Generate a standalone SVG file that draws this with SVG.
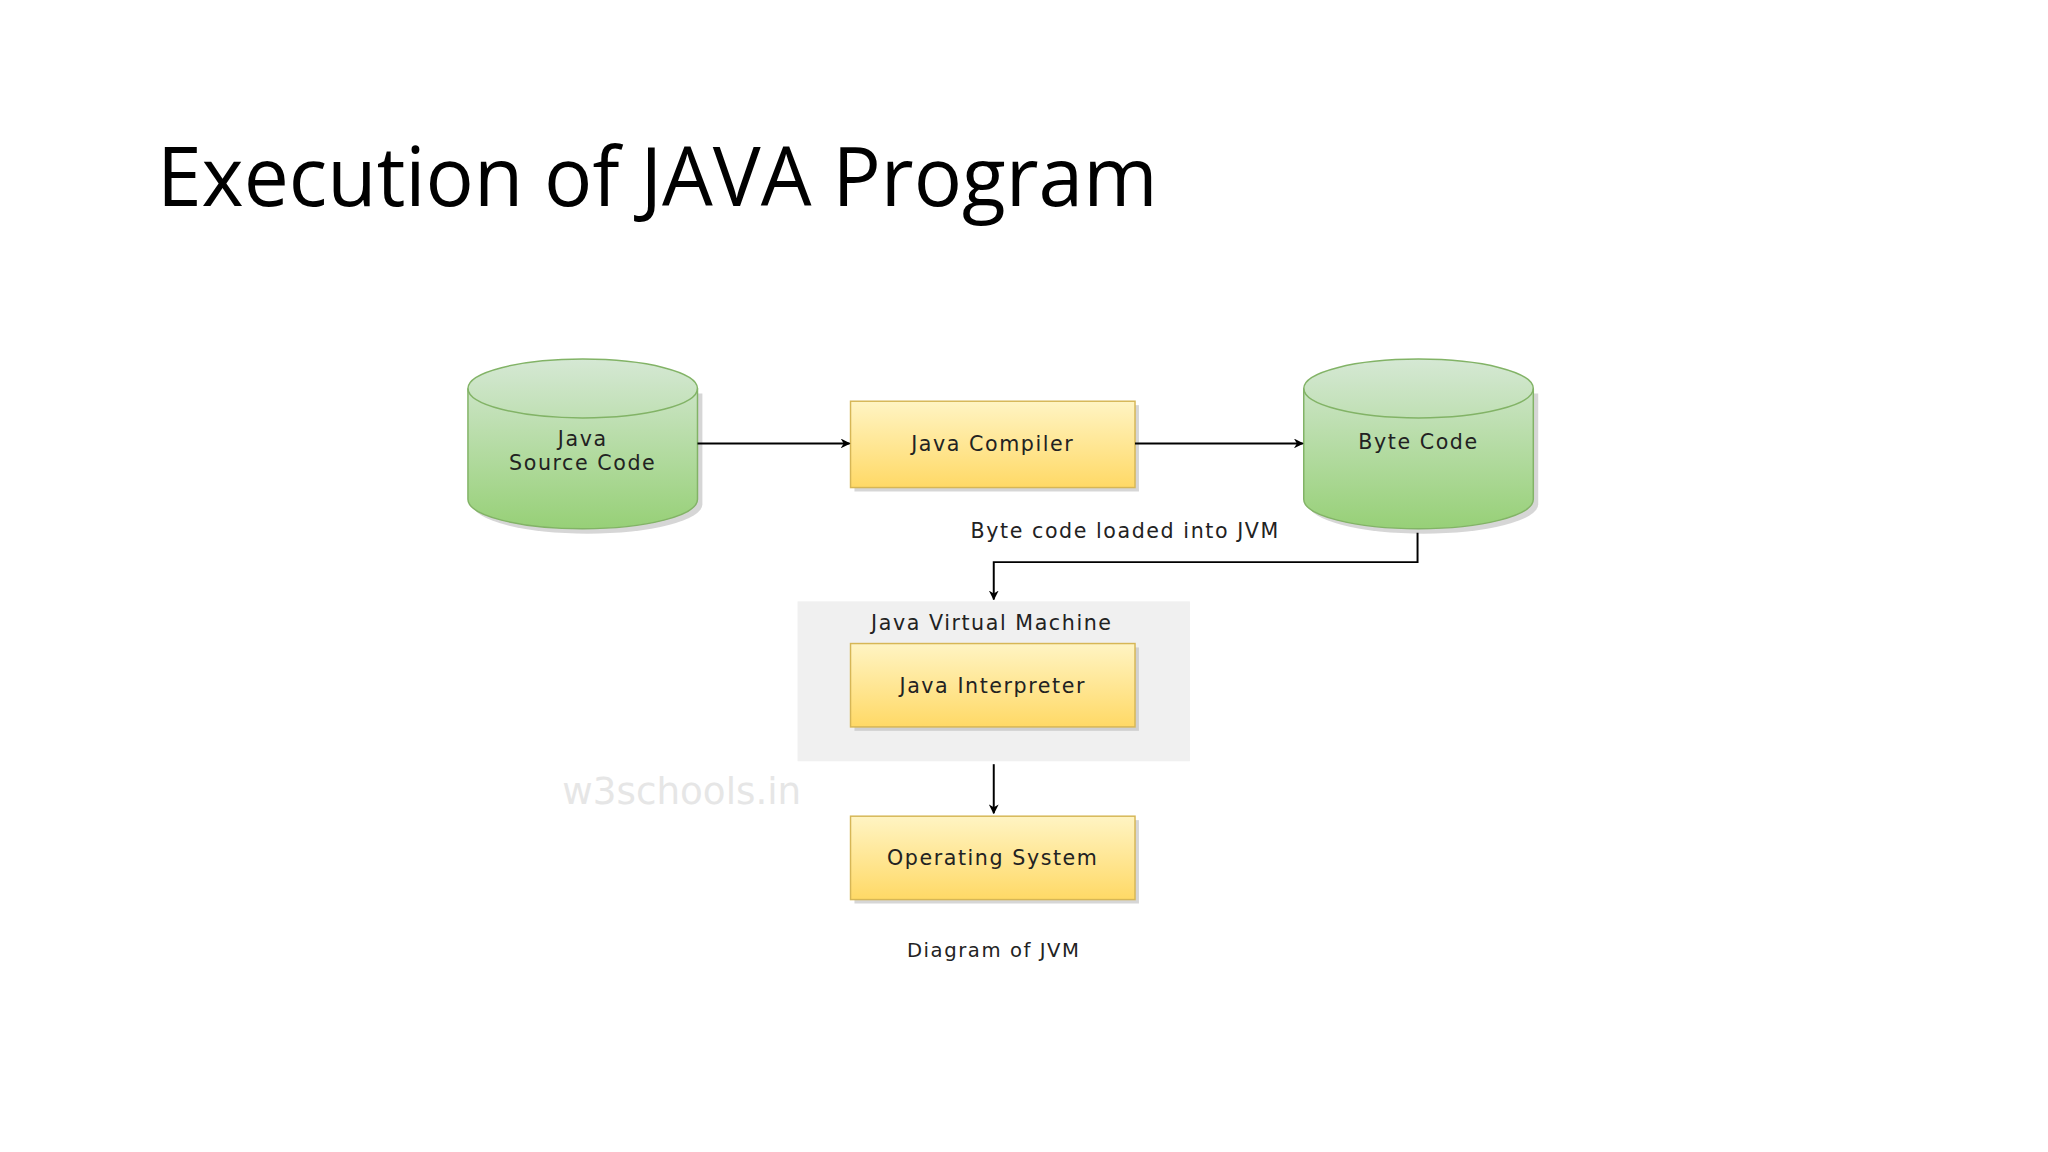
<svg xmlns="http://www.w3.org/2000/svg" width="2048" height="1152" viewBox="0 0 2048 1152">
<defs>
<linearGradient id="yg" x1="0" y1="0" x2="0" y2="1"><stop offset="0" stop-color="#fff4c3"/><stop offset="1" stop-color="#ffd966"/></linearGradient>
<linearGradient id="gg" x1="0" y1="0" x2="0" y2="1"><stop offset="0" stop-color="#d5e8d4"/><stop offset="1" stop-color="#97d077"/></linearGradient>
<marker id="ah" markerWidth="10" markerHeight="10" refX="9" refY="5" orient="auto" markerUnits="userSpaceOnUse"><path d="M0,0 L10,5 L0,10 L3,5 z" fill="#000"/></marker>
<style>
.t{font-family:"DejaVu Sans",sans-serif;font-size:21px;fill:#222;text-anchor:middle;letter-spacing:1.6px}
.box{fill:url(#yg);stroke:#d6b656;stroke-width:1.5}
.cyl{fill:url(#gg);stroke:#82b366;stroke-width:1.5}
.sh{fill:#bbb;opacity:0.6}
.c{stroke:#000;stroke-width:2;fill:none;marker-end:url(#ah)}
</style>
</defs>
<rect width="2048" height="1152" fill="#fff"/>
<g transform="scale(0.981)">
<text x="160" y="210" font-family="'Open Sans',sans-serif" font-size="84" font-weight="500" fill="#000" textLength="1020" lengthAdjust="spacingAndGlyphs">Execution of JAVA Program</text>
<g id="jvm-region"><rect x="813" y="613" width="400" height="163" fill="#f0f0f0"/><text class="t" x="1011" y="642">Java Virtual Machine</text></g>
<g id="source">
<path class="sh" d="M482,401 v113 a117,30 0 0 0 234,0 v-113 z"/>
<path class="cyl" d="M477,396 v113 a117,30 0 0 0 234,0 v-113 a117,30 0 0 0 -234,0 z"/>
<path d="M477,396 a117,30 0 0 0 234,0" fill="none" stroke="#82b366" stroke-width="1.5"/>
<text class="t" x="594" y="455">Java</text><text class="t" x="594" y="479">Source Code</text></g>
<g id="compiler"><rect class="sh" x="871" y="413" width="290" height="88"/><rect class="box" x="867" y="409" width="290" height="88"/><text class="t" x="1012" y="460">Java Compiler</text></g>
<g id="bytecode">
<path class="sh" d="M1334,401 v113 a117,30 0 0 0 234,0 v-113 z"/>
<path class="cyl" d="M1329,396 v113 a117,30 0 0 0 234,0 v-113 a117,30 0 0 0 -234,0 z"/>
<path d="M1329,396 a117,30 0 0 0 234,0" fill="none" stroke="#82b366" stroke-width="1.5"/>
<text class="t" x="1446" y="458">Byte Code</text></g>
<g id="interpreter"><rect class="sh" x="871" y="660" width="290" height="85"/><rect class="box" x="867" y="656" width="290" height="85"/><text class="t" x="1012" y="706">Java Interpreter</text></g>
<g id="os"><rect class="sh" x="871" y="836" width="290" height="85"/><rect class="box" x="867" y="832" width="290" height="85"/><text class="t" x="1012" y="882">Operating System</text></g>
<g id="connectors">
<path class="c" d="M711,452 H866"/>
<path class="c" d="M1157,452 H1328"/>
<path class="c" d="M1445,543 V573 H1013 V611"/>
<path class="c" d="M1013,779 V829"/>
</g>
<text class="t" x="1147" y="548">Byte code loaded into JVM</text>
<text class="t" x="1013" y="976" style="font-size:20px">Diagram of JVM</text>
<text x="695" y="820" font-family="'DejaVu Sans',sans-serif" font-size="38" fill="#e6e6e6" text-anchor="middle">w3schools.in</text>
</g>
</svg>
